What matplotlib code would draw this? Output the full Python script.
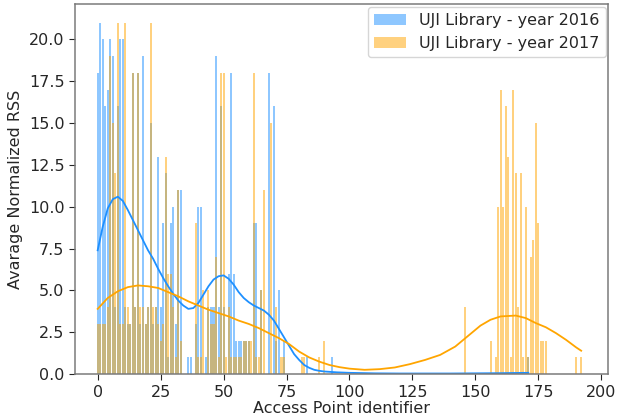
import numpy as np
import matplotlib
matplotlib.use("Agg")
import matplotlib.pyplot as plt

# 2016: access point id -> average normalized RSS
ap_2016 = [0, 1, 2, 3, 4, 5, 6, 7, 8, 9, 10, 11, 12, 13, 14, 15, 16, 17, 18, 19,
           20, 21, 22, 23, 24, 25, 26, 27, 28, 29, 30, 31, 32, 33, 36, 37, 39, 40,
           41, 43, 44, 45, 46, 47, 48, 49, 50, 52, 53, 54, 55, 56, 57, 58, 59, 60,
           62, 63, 65, 68, 70, 71, 72, 74, 83, 93, 171]
rss_2016 = [18, 21, 20, 16, 17, 20, 19, 4, 16, 20, 20, 4, 3, 3, 18, 4, 18, 3, 19, 3,
            4, 15, 3, 4, 13, 4, 9, 12, 1, 9, 10, 3, 11, 11, 1, 1, 3, 10,
            10, 1, 4, 4, 4, 19, 4, 16, 4, 6, 18, 6, 2, 2, 2, 2, 2, 2,
            9, 9, 5, 18, 16, 2, 5, 2, 1, 1, 1]

# 2017
ap_2017 = [0, 1, 2, 3, 4, 5, 6, 7, 8, 9, 10, 11, 12, 13, 14, 15, 16, 17, 18, 19,
           20, 21, 22, 23, 24, 25, 26, 27, 28, 29, 30, 31, 32, 33, 39, 40, 41, 42,
           44, 45, 46, 47, 48, 49, 50, 51, 52, 53, 54, 55, 56, 57, 58, 59, 60, 61,
           62, 63, 64, 65, 66, 69, 71, 73, 74, 81, 82, 88, 90,
           146, 156, 158, 159, 160, 161, 162, 163, 164, 165, 166, 167, 168, 169,
           170, 171, 172, 173, 174, 175, 176, 177, 178, 190, 192]
rss_2017 = [3, 3, 3, 3, 4, 19, 15, 12, 21, 3, 3, 21, 4, 3, 18, 4, 18, 4, 4, 3,
            4, 21, 4, 4, 3, 2, 3, 13, 6, 6, 4, 1, 11, 2, 9, 1, 1, 5,
            5, 3, 3, 7, 1, 18, 18, 1, 4, 1, 1, 1, 1, 1, 2, 2, 2, 2,
            18, 1, 1, 5, 11, 15, 4, 1, 1, 1, 1, 1, 2,
            4, 2, 1, 10, 17, 10, 16, 13, 1, 17, 12, 4, 12, 1,
            10, 1, 7, 8, 15, 9, 2, 2, 2, 1, 1]

# smoothed trend lines
curve_x_2016 = [0, 2, 4, 6, 8, 10, 12, 14, 16, 18, 20, 22, 24, 26, 28, 30, 32, 34,
                36, 38, 40, 42, 44, 46, 48, 50, 52, 54, 56, 58, 60, 62, 64, 66, 68,
                70, 72, 74, 76, 78, 80, 82, 84, 86, 88, 90, 95, 100, 110, 120, 130,
                140, 150, 160, 165, 171]
curve_y_2016 = [7.4, 8.8, 9.9, 10.45, 10.6, 10.35, 9.8, 9.2, 8.6, 8.0, 7.4, 6.9,
                6.3, 5.75, 5.25, 4.8, 4.4, 4.1, 3.9, 3.95, 4.25, 4.75, 5.25, 5.65,
                5.85, 5.9, 5.7, 5.35, 4.9, 4.55, 4.3, 4.1, 3.95, 3.8, 3.55, 3.2,
                2.7, 2.2, 1.7, 1.2, 0.85, 0.55, 0.38, 0.26, 0.2, 0.16, 0.11, 0.08,
                0.05, 0.04, 0.04, 0.04, 0.05, 0.06, 0.07, 0.08]
curve_x_2017 = [0, 4, 8, 12, 16, 20, 24, 28, 32, 36, 40, 44, 48, 52, 56, 60, 64,
                68, 72, 76, 80, 84, 88, 92, 96, 100, 106, 112, 118, 124, 130, 136,
                142, 148, 152, 156, 160, 166, 170, 174, 178, 182, 186, 190, 192]
curve_y_2017 = [3.9, 4.55, 4.95, 5.2, 5.3, 5.25, 5.15, 4.9, 4.65, 4.35, 4.1, 3.85,
                3.65, 3.45, 3.2, 3.0, 2.75, 2.45, 2.15, 1.8, 1.35, 1.0, 0.75, 0.55,
                0.42, 0.33, 0.26, 0.3, 0.4, 0.6, 0.85, 1.15, 1.65, 2.4, 2.9, 3.25,
                3.45, 3.5, 3.35, 3.05, 2.8, 2.45, 2.05, 1.6, 1.4]

plt.rcParams["font.family"] = "DejaVu Sans"
plt.rcParams["text.color"] = "#262626"
plt.rcParams["axes.labelcolor"] = "#262626"
plt.rcParams["xtick.color"] = "#262626"
plt.rcParams["ytick.color"] = "#262626"

fig = plt.figure(figsize=(6.25, 4.19), dpi=100)
ax = fig.add_axes([0.12, 0.107, 0.853, 0.883])

ax.bar(ap_2016, rss_2016, width=0.8, color="dodgerblue", alpha=0.5,
       label="UJI Library - year 2016")
ax.bar(ap_2017, rss_2017, width=0.8, color="orange", alpha=0.5,
       label="UJI Library - year 2017")
ax.plot(curve_x_2016, curve_y_2016, color="dodgerblue", lw=1.3)
ax.plot(curve_x_2017, curve_y_2017, color="orange", lw=1.3)

ax.set_xlim(-9, 202.7)
ax.set_ylim(0, 22.1)
ax.set_xticks(np.arange(0, 201, 25))
ax.set_yticks(np.arange(0, 20.1, 2.5))
ax.tick_params(labelsize=11.5, length=4, color="#262626")
ax.set_xlabel("Access Point identifier", fontsize=11.5, labelpad=1)
ax.set_ylabel("Avarage Normalized RSS", fontsize=11.5)
for s in ax.spines.values():
    s.set_color("#7a7a7a")
    s.set_linewidth(1.1)

ax.legend(loc="upper right", fontsize=11.5, frameon=True, borderaxespad=0.15)

fig.savefig("out.png", dpi=100)
